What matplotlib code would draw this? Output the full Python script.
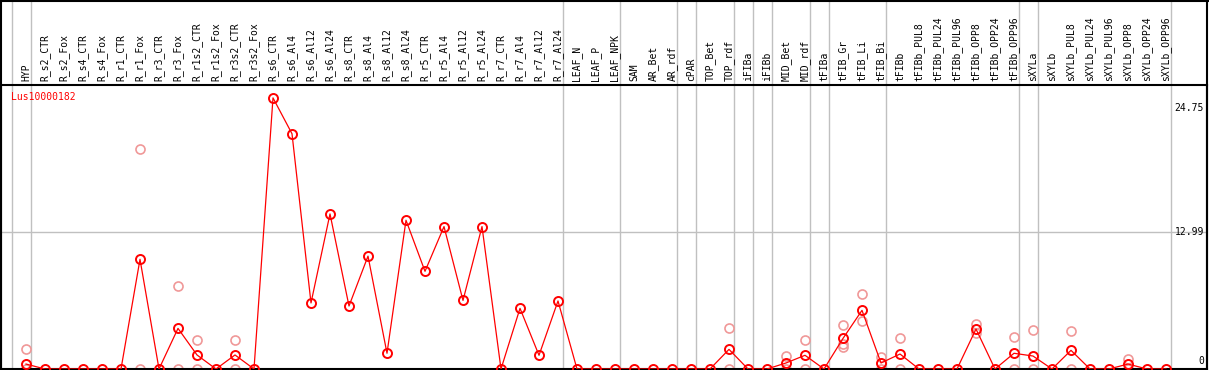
import numpy as np
import matplotlib
matplotlib.use("Agg")
import matplotlib.pyplot as plt

# sample names (top labels)
samples = ['HYP', 'R_s2_CTR', 'R_s2_Fox', 'R_s4_CTR', 'R_s4_Fox', 'R_r1_CTR', 'R_r1_Fox',
           'R_r3_CTR', 'R_r3_Fox', 'R_r1s2_CTR', 'R_r1s2_Fox', 'R_r3s2_CTR', 'R_r3s2_Fox',
           'R_s6_CTR', 'R_s6_Al4', 'R_s6_Al12', 'R_s6_Al24', 'R_s8_CTR', 'R_s8_Al4',
           'R_s8_Al12', 'R_s8_Al24', 'R_r5_CTR', 'R_r5_Al4', 'R_r5_Al12', 'R_r5_Al24',
           'R_r7_CTR', 'R_r7_Al4', 'R_r7_Al12', 'R_r7_Al24', 'LEAF_N', 'LEAF_P', 'LEAF_NPK',
           'SAM', 'AR_Bet', 'AR_rdf', 'cPAR', 'TOP_Bet', 'TOP_rdf', 'iFIBa', 'iFIBb',
           'MID_Bet', 'MID_rdf', 'tFIBa', 'tFIB_Gr', 'tFIB_Li', 'tFIB_Bi', 'tFIBb',
           'tFIBb_PUL8', 'tFIBb_PUL24', 'tFIBb_PUL96', 'tFIBb_OPP8', 'tFIBb_OPP24',
           'tFIBb_OPP96', 'sXYLa', 'sXYLb', 'sXYLb_PUL8', 'sXYLb_PUL24', 'sXYLb_PUL96',
           'sXYLb_OPP8', 'sXYLb_OPP24', 'sXYLb_OPP96']

# mean expression per sample
means = [0.47, 0, 0, 0, 0, 0, 10.4, 0, 3.85, 1.33, 0, 1.33, 0,
         25.7, 22.3, 6.26, 14.7, 5.97, 10.7, 1.49, 14.1, 9.26, 13.5, 6.5, 13.5,
         0, 5.75, 1.3, 6.45, 0, 0, 0, 0, 0, 0, 0, 0, 1.86, 0, 0,
         0.57, 1.3, 0, 2.9, 5.56, 0.57, 1.42, 0, 0, 0, 3.79, 0, 1.49, 1.23, 0,
         1.77, 0, 0, 0.47, 0, 0]

nan = np.nan
# replicate values (nan = none shown)
rep_a = [nan] * len(samples)
rep_b = [nan] * len(samples)
rep_c = [nan] * len(samples)
for name, a, b in [('HYP', 1.9, 0), ('R_r1_Fox', 20.85, 0), ('R_r3_Fox', 7.87, 0),
                   ('R_r1s2_CTR', 2.75, 0), ('R_r3s2_CTR', 2.75, 0), ('TOP_rdf', 3.85, 0),
                   ('MID_Bet', 1.2, 0), ('MID_rdf', 2.75, 0), ('tFIB_Gr', 4.14, 2.06),
                   ('tFIB_Li', 7.1, 4.55), ('tFIB_Bi', 1.1, 0), ('tFIBb', 2.9, 0),
                   ('tFIBb_OPP8', 4.27, 3.38), ('tFIBb_OPP96', 3.0, 0), ('sXYLa', 3.67, 0),
                   ('sXYLb_PUL8', 3.6, 0), ('sXYLb_OPP8', 0.98, 0)]:
    rep_a[samples.index(name)] = a
    rep_b[samples.index(name)] = b
rep_c[samples.index('tFIB_Gr')] = 2.34

# group separators (after these samples)
group_ends = ['HYP', 'R_r7_Al24', 'LEAF_NPK', 'AR_rdf', 'cPAR', 'TOP_rdf', 'iFIBa',
              'iFIBb', 'MID_rdf', 'tFIBa', 'tFIB_Bi', 'tFIBb_OPP96', 'sXYLa', 'sXYLb_OPP96']

W, H = 1209, 370
fig = plt.figure(figsize=(W / 100, H / 100), dpi=100)
ax = fig.add_axes([1 / W, 1 / H, 1206 / W, 284 / H])
x = np.arange(len(samples))
ax.set_xlim(-25 / 19, 1181 / 19)
ymax = 284 / 10.55
ax.set_ylim(0, ymax)

grid_c = '#c0c0c0'
for g in [-1] + [samples.index(n) for n in group_ends]:
    ax.axvline(g + 0.24, ymin=0, ymax=369 / 284, color=grid_c, lw=1, clip_on=False, zorder=1)
ax.axhline(12.99, xmin=0, xmax=1, color=grid_c, lw=1, zorder=1)

pink = '#f09898'
for r in (rep_a, rep_b, rep_c):
    ax.plot(x, r, 'o', ms=6.5, mfc='none', mec=pink, mew=1.2, zorder=2)
ax.plot(x, means, '-', color='red', lw=0.9, zorder=3)
ax.plot(x, means, 'o', ms=6.5, mfc='none', mec='red', mew=1.4, zorder=4)

ax.xaxis.tick_top()
ax.set_xticks(x)
ax.set_xticklabels(samples, rotation=90, family='DejaVu Sans Mono', fontsize=7)
ax.tick_params(axis='x', length=0, pad=3)
ax.set_yticks([])
for s in ax.spines.values():
    s.set_linewidth(1.5)
    s.set_color('black')

ax.text(10 / 1206, 1 - 12 / 284, 'Lus10000182', transform=ax.transAxes, color='red',
        family='DejaVu Sans Mono', fontsize=7, va='center', ha='left')
for v, txt, va in [(24.75, '24.75', 'center'), (12.99, '12.99', 'center'), (0, '0', 'bottom')]:
    ax.text(1 - 3 / 1206, v + (0.3 if v == 0 else 0), txt, transform=ax.get_yaxis_transform(),
            family='DejaVu Sans Mono', fontsize=7, va=va, ha='right')

# header frame lines
fig.add_artist(plt.Line2D([0, 1], [1 - 0.5 / H, 1 - 0.5 / H], color='black', lw=1.5))
fig.add_artist(plt.Line2D([1 / W, 1 / W], [0, 1], color='black', lw=1.5))
fig.add_artist(plt.Line2D([1207 / W, 1207 / W], [0, 1], color='black', lw=1.5))

fig.savefig('out.png', dpi=100)
